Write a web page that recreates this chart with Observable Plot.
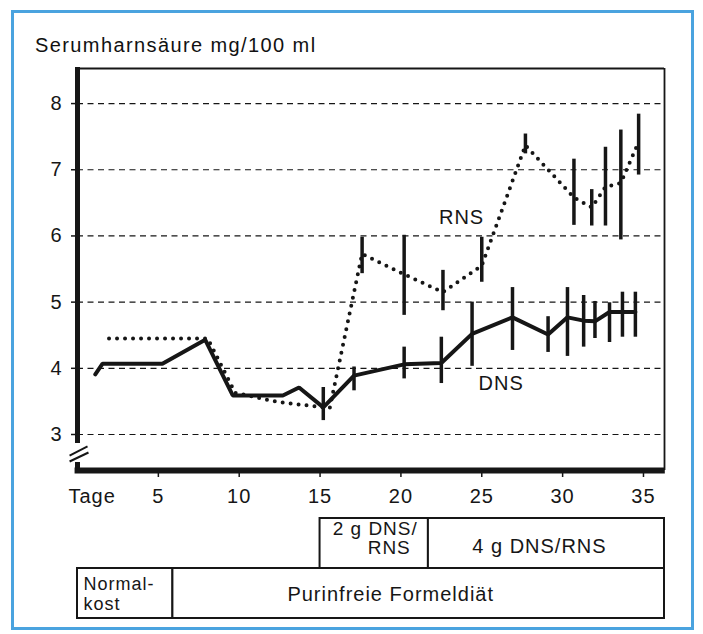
<!DOCTYPE html>
<html><head><meta charset="utf-8">
<script src="https://cdn.jsdelivr.net/npm/d3@7"></script>
<script src="https://cdn.jsdelivr.net/npm/@observablehq/plot@0.6"></script>
<style>
html,body{margin:0;padding:0;background:#fff;}
#wrap{position:relative;width:703px;height:634px;overflow:hidden;font-family:"Liberation Sans",Arial,Helvetica,sans-serif;}
#border{position:absolute;left:11px;top:10px;width:677px;height:614px;border:3px solid #4aa3df;}
#title{position:absolute;left:35px;top:35px;font-size:20px;line-height:20px;letter-spacing:1.4px;color:#111;white-space:nowrap;}
#chart{position:absolute;left:0;top:56px;}
#boxes{position:absolute;left:0;top:512px;}
</style></head>
<body><div id="wrap"><div id="border"></div><div id="title">Serumharnsäure mg/100 ml</div><div id="chart"></div><div id="boxes"></div></div>
<script>
// ---- data ----
const dnsDay = [1.1, 1.55, 5.25, 7.9, 9.6, 12.7, 13.7, 15.2, 17.1, 20.2, 22.5, 24.4, 26.9, 29.1, 30.3, 31.3, 32.0, 32.9, 33.7, 34.5];
const dnsVal = [3.91, 4.07, 4.07, 4.43, 3.59, 3.59, 3.71, 3.41, 3.89, 4.06, 4.08, 4.52, 4.77, 4.51, 4.77, 4.72, 4.71, 4.85, 4.85, 4.85];
const dnsBarDay = [15.2, 17.1, 20.2, 22.5, 24.4, 26.9, 29.1, 30.3, 31.3, 32.0, 32.9, 33.7, 34.5];
const dnsBarLo  = [3.21, 3.66, 3.84, 3.77, 4.03, 4.27, 4.24, 4.18, 4.32, 4.45, 4.39, 4.47, 4.47];
const dnsBarHi  = [3.71, 4.02, 4.32, 4.47, 5.00, 5.22, 4.78, 5.22, 5.10, 5.01, 4.99, 5.15, 5.15];

const rnsDay = [1.95, 8.05, 9.75, 12.4, 15.6, 17.6, 20.2, 22.6, 25.0, 27.7, 30.7, 31.8, 32.65, 33.6, 34.7];
const rnsVal = [4.45, 4.45, 3.63, 3.49, 3.40, 5.73, 5.42, 5.15, 5.55, 7.37, 6.58, 6.43, 6.74, 6.80, 7.42];
const rnsBarDay = [17.6, 20.2, 22.6, 25.0, 27.7, 30.7, 31.8, 32.65, 33.6, 34.7];
const rnsBarLo  = [5.43, 4.80, 4.87, 5.30, 7.24, 6.16, 6.15, 6.15, 5.94, 6.92];
const rnsBarHi  = [5.98, 6.01, 5.48, 5.98, 7.54, 7.16, 6.70, 7.34, 7.60, 7.84];

const seriesNames = ["RNS", "DNS"];
const seriesLabelDay = [23.75, 26.2];
const seriesLabelVal = [6.28, 3.77];

const yTicks = [3, 4, 5, 6, 7, 8];
const xTicks = [5, 10, 15, 20, 25, 30, 35];
const xAxisName = "Tage";

const phaseStart = [15, 21.7, 0, 5.9];
const phaseEnd   = [21.7, 36.3, 5.9, 36.3];
const phaseRow   = [0, 0, 1, 1];

// ---- build tables ----
const xDomain = [0, 36.3];
const yDomain = [2.456, 8.53];
const breakLo = 2.577, breakHi = 2.864;
const ink = "#161616";
const fontFamily = '"Liberation Sans", Arial, Helvetica, sans-serif';

const dns = dnsDay.map((d, i) => ({day: d, val: dnsVal[i]}));
const rns = rnsDay.map((d, i) => ({day: d, val: rnsVal[i]}));
const dnsBars = dnsBarDay.map((d, i) => ({day: d, lo: dnsBarLo[i], hi: dnsBarHi[i]}));
const rnsBars = rnsBarDay.map((d, i) => ({day: d, lo: rnsBarLo[i], hi: rnsBarHi[i]}));
const seriesLabels = seriesNames.map((n, i) => ({name: n, day: seriesLabelDay[i], val: seriesLabelVal[i]}));
const phases = phaseStart.map((s, i) => ({start: s, end: phaseEnd[i], row: phaseRow[i], mid: (s + phaseEnd[i]) / 2}));

const axisSegments = [
  {y1: yDomain[0] - 0.045, y2: breakLo},
  {y1: breakHi, y2: yDomain[1] + 0.015}
];
const breakMarks = [
  {x1: -0.49, y1: breakLo + 0.105, x2: 0.62, y2: breakLo + 0.242},
  {x1: -0.49, y1: breakLo + 0.015, x2: 0.68, y2: breakLo + 0.151}
];

const chart = Plot.plot({
  width: 703, height: 460,
  marginLeft: 77, marginRight: 39, marginTop: 12, marginBottom: 46,
  style: {fontFamily, fontSize: "20px", color: ink, background: "transparent", overflow: "visible", letterSpacing: "1px"},
  x: {domain: xDomain},
  y: {domain: yDomain},
  marks: [
    Plot.ruleY(yTicks, {stroke: ink, strokeWidth: 1.2, strokeDasharray: "6,4.5"}),
    Plot.ruleY([yDomain[1]], {stroke: ink, strokeWidth: 1.8}),
    Plot.ruleX([xDomain[1]], {stroke: ink, strokeWidth: 1.8}),
    Plot.ruleX(axisSegments, {x: 0, y1: "y1", y2: "y2", stroke: ink, strokeWidth: 5}),
    Plot.ruleY([yDomain[0]], {x1: xDomain[0] - 0.15, x2: xDomain[1] + 0.05, stroke: ink, strokeWidth: 6}),
    Plot.link(breakMarks, {x1: "x1", y1: "y1", x2: "x2", y2: "y2", stroke: ink, strokeWidth: 2}),
    Plot.axisY({ticks: yTicks, tickSize: 6, tickPadding: 9, fontSize: 20, label: null, tickFormat: d => String(d), stroke: ink, strokeWidth: 1.5}),
    Plot.axisX({ticks: xTicks, tickSize: 7, tickPadding: 11, fontSize: 20, label: null, tickFormat: d => String(d), stroke: ink, strokeWidth: 1.5}),
    Plot.text([xAxisName], {frameAnchor: "bottom-left", text: d => d, dx: -9, dy: 32, textAnchor: "start", fontSize: 20, fill: ink}),
    Plot.line(rns, {x: "day", y: "val", stroke: ink, strokeWidth: 4, strokeDasharray: "0,8", strokeLinecap: "round", strokeLinejoin: "round"}),
    Plot.ruleX(rnsBars, {x: "day", y1: "lo", y2: "hi", stroke: ink, strokeWidth: 3.5}),
    Plot.line(dns, {x: "day", y: "val", stroke: ink, strokeWidth: 4, strokeLinejoin: "miter"}),
    Plot.ruleX(dnsBars, {x: "day", y1: "lo", y2: "hi", stroke: ink, strokeWidth: 3.5}),
    Plot.text(seriesLabels, {x: "day", y: "val", text: "name", fontSize: 20, fill: ink})
  ]
});
document.getElementById("chart").appendChild(chart);

const boxes = Plot.plot({
  width: 703, height: 112,
  marginLeft: 77, marginRight: 39, marginTop: 6, marginBottom: 6,
  style: {fontFamily, fontSize: "20px", color: ink, background: "transparent", overflow: "visible", letterSpacing: "1px"},
  x: {domain: xDomain, axis: null},
  y: {domain: [0, 2], reverse: true, axis: null},
  marks: [
    Plot.rect(phases, {x1: "start", x2: "end", y1: "row", y2: d => d.row + 1, fill: "white", stroke: ink, strokeWidth: 2}),
    Plot.text([phases[0]], {x: "mid", y: d => d.row + 0.5, text: () => "2 g DNS/", dx: 1, dy: -14.8, fontSize: 19, fill: ink}),
    Plot.text([phases[0]], {x: "mid", y: d => d.row + 0.5, text: () => "RNS", dx: 15, dy: 4.8, fontSize: 19, fill: ink}),
    Plot.text([phases[1]], {x: "mid", y: d => d.row + 0.5, text: () => "4 g DNS/RNS", dx: -7, dy: 3.5, fontSize: 20, fill: ink}),
    Plot.text([phases[2]], {x: "start", y: d => d.row + 0.5, text: () => "Normal-", dx: 6, dy: -8.8, textAnchor: "start", fontSize: 18, fill: ink}),
    Plot.text([phases[2]], {x: "start", y: d => d.row + 0.5, text: () => "kost", dx: 6, dy: 10.8, textAnchor: "start", fontSize: 18, fill: ink}),
    Plot.text([phases[3]], {x: "mid", y: d => d.row + 0.5, text: () => "Purinfreie Formeldiät", dx: -28, dy: 0.6, fontSize: 20, fill: ink})
  ]
});
document.getElementById("boxes").appendChild(boxes);
</script>
</body></html>
